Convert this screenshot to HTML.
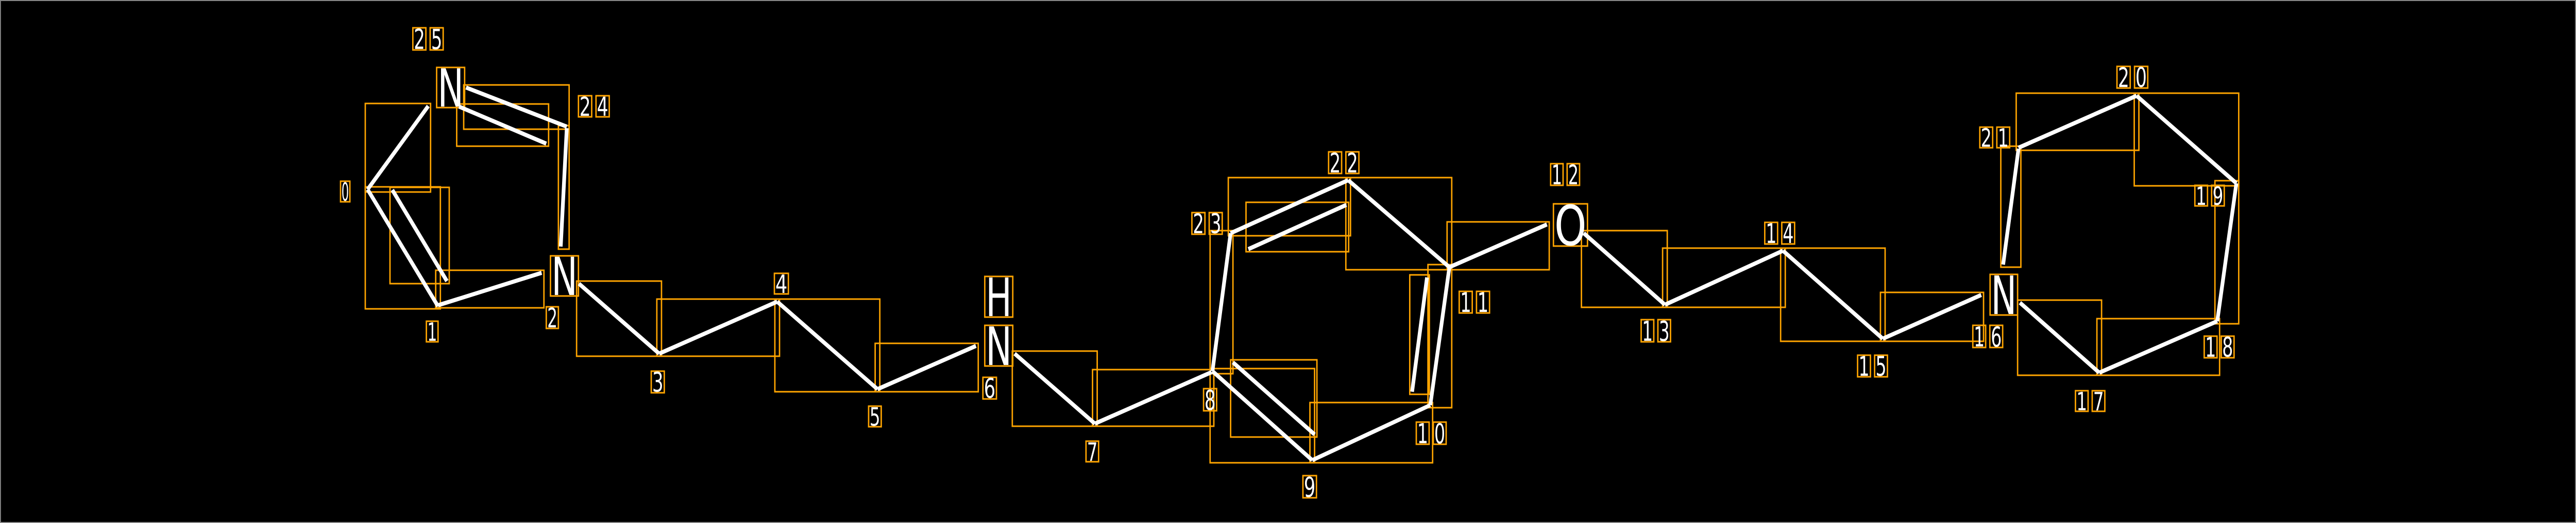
<!DOCTYPE html>
<html><head><meta charset="utf-8"><style>
html,body{margin:0;padding:0;background:#000;width:100%;height:100%;overflow:hidden;}
svg{display:block;width:100vw;height:100vh}
</style></head><body>
<svg id="s" viewBox="0 0 5522 1016" preserveAspectRatio="none" xmlns="http://www.w3.org/2000/svg">
<rect x="0" y="0" width="5522" height="1016" fill="#000"/>
<rect x="1" y="1" width="5520" height="1014" fill="none" stroke="#888" stroke-width="2"/>
<g id="bb" fill="none" stroke="#FFA500" stroke-width="3"></g>
<g id="ln" stroke="#fff" stroke-width="8" stroke-linecap="butt"></g>
<g id="tx" fill="#fff" font-family="DejaVu Sans, Liberation Sans, sans-serif"></g>
</svg>
<script>
var NS="http://www.w3.org/2000/svg";
function el(p,t,a){var e=document.createElementNS(NS,t);for(var k in a)e.setAttribute(k,a[k]);document.getElementById(p).appendChild(e);return e;}
function bond(x1,y1,x2,y2){
 el("ln","line",{x1:x1,y1:y1,x2:x2,y2:y2});
 var p=5;
 el("bb","rect",{x:Math.min(x1,x2)-p,y:Math.min(y1,y2)-p,width:Math.abs(x2-x1)+2*p,height:Math.abs(y2-y1)+2*p});
}
function ch(c,x1,y1,x2,y2){
 el("bb","rect",{x:x1,y:y1,width:x2-x1,height:y2-y1});
 var h=y2-y1-4, w=x2-x1-4;
 var fs=h/0.729;
 var t=el("tx","text",{x:x1+2,y:y2-2,"font-size":fs,textLength:w,lengthAdjust:"spacingAndGlyphs"});
 t.textContent=c;
}
function lab(s,x1,y1,x2,y2){
 if(s.length==1){ch(s,x1,y1,x2,y2);return;}
 var w=(x2-x1)*0.43;
 ch(s[0],x1,y1,x1+w,y2);ch(s[1],x2-w,y1,x2,y2);
}
bond(788,368,918,206);
bond(999,170,1215,246); bond(984,207,1171,279);
bond(1215,249,1202,479);
bond(788,368,939,595); bond(841,369,958,546);
bond(939,593,1161,530);
bond(1241,551,1413,687);
bond(1413,687,1666,586);
bond(1666,586,1881,756);
bond(1881,756,2092,672);
bond(2175,687,2347,823);
bond(2347,823,2597,723);
bond(2599,721,2638,453);
bond(2638,453,2890,350); bond(2676,484,2886,398);
bond(2890,350,3107,519);
bond(3107,519,3316,436);
bond(3107,519,3066,787); bond(3059,539,3027,761);
bond(2599,721,2813,894); bond(2643,704,2818,844);
bond(2813,894,3066,787);
bond(3395,453,3569,592);
bond(3569,592,3822,487);
bond(3822,487,4036,658);
bond(4036,658,4247,573);
bond(4330,588,4500,724);
bond(4500,724,4753,624);
bond(4753,624,4794,356);
bond(4794,356,4580,186);
bond(4580,186,4327,287);
bond(4327,289,4294,514);
ch("N",936,131,996,209);
ch("N",1180,497,1240,575);
ch("H",2111,537,2171,616);
ch("N",2111,632,2171,711);
ch("O",3330,396,3403,478);
ch("N",4266,533,4325,612);
lab("0",730,352,750,392);
lab("1",914,624,939,664);
lab("2",1171,596,1197,638);
lab("3",1396,721,1424,763);
lab("4",1660,531,1690,571);
lab("5",1862,789,1889,829);
lab("6",2107,733,2136,775);
lab("7",2328,857,2355,897);
lab("8",2580,755,2608,798);
lab("9",2793,924,2822,967);
lab("10",3036,820,3100,863);
lab("11",3128,566,3193,608);
lab("12",3324,318,3386,360);
lab("13",3518,621,3581,664);
lab("14",3783,432,3847,474);
lab("15",3982,690,4046,732);
lab("16",4229,632,4293,675);
lab("17",4449,759,4512,799);
lab("18",4725,653,4789,695);
lab("19",4705,360,4768,400);
lab("20",4538,129,4604,171);
lab("21",4244,247,4308,287);
lab("22",2848,295,2913,337);
lab("23",2555,413,2620,455);
lab("24",1240,186,1306,227);
lab("25",885,54,950,97);
</script>
</body></html>
